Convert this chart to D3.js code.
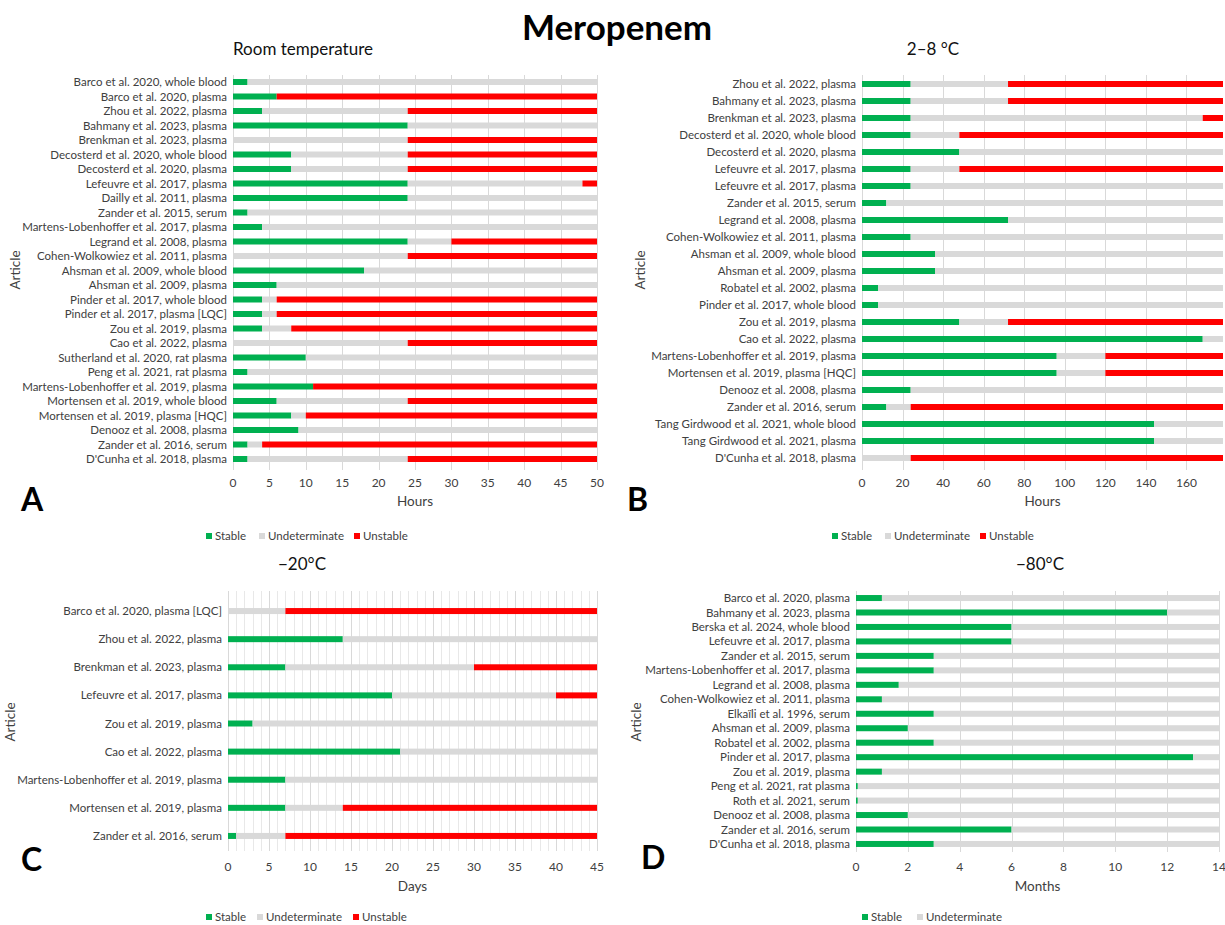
<!DOCTYPE html>
<html>
<head>
<meta charset="utf-8">
<script src="https://cdn.jsdelivr.net/npm/d3@7"></script>
<style>
  body { margin: 0; background: #fff; }
  svg text { font-family: Lato, "Open Sans", sans-serif; }
</style>
</head>
<body>
<div id="chart"></div>
<script>
const width = 1225;
const height = 925;

// Panel A: room temperature (hours)
const articlesA = [
  "Barco et al. 2020, whole blood", "Barco et al. 2020, plasma", "Zhou et al. 2022, plasma",
  "Bahmany et al. 2023, plasma", "Brenkman et al. 2023, plasma", "Decosterd et al. 2020, whole blood",
  "Decosterd et al. 2020, plasma", "Lefeuvre et al. 2017, plasma", "Dailly et al. 2011, plasma",
  "Zander et al. 2015, serum", "Martens-Lobenhoffer et al. 2017, plasma", "Legrand et al. 2008, plasma",
  "Cohen-Wolkowiez et al. 2011, plasma", "Ahsman et al. 2009, whole blood", "Ahsman et al. 2009, plasma",
  "Pinder et al. 2017, whole blood", "Pinder et al. 2017, plasma [LQC]", "Zou et al. 2019, plasma",
  "Cao et al. 2022, plasma", "Sutherland et al. 2020, rat plasma", "Peng et al. 2021, rat plasma",
  "Martens-Lobenhoffer et al. 2019, plasma", "Mortensen et al. 2019, whole blood",
  "Mortensen et al. 2019, plasma [HQC]", "Denooz et al. 2008, plasma", "Zander et al. 2016, serum",
  "D'Cunha et al. 2018, plasma"
];
const stableA =        [2, 6, 4, 24, 0, 8, 8, 24, 24, 2, 4, 24, 0, 18, 6, 4, 4, 4, 0, 10, 2, 11, 6, 8, 9, 2, 2];
const undeterminateA = [48, 0, 20, 26, 24, 16, 16, 24, 26, 48, 46, 6, 24, 32, 44, 2, 2, 4, 24, 40, 48, 0, 18, 2, 41, 2, 22];
const unstableA =      [0, 44, 26, 0, 26, 26, 26, 2, 0, 0, 0, 20, 26, 0, 0, 44, 44, 42, 26, 0, 0, 39, 26, 40, 0, 46, 26];
const ticksA = [0, 5, 10, 15, 20, 25, 30, 35, 40, 45, 50];

// Panel B: 2-8 °C (hours)
const articlesB = [
  "Zhou et al. 2022, plasma", "Bahmany et al. 2023, plasma", "Brenkman et al. 2023, plasma",
  "Decosterd et al. 2020, whole blood", "Decosterd et al. 2020, plasma", "Lefeuvre et al. 2017, plasma",
  "Lefeuvre et al. 2017, plasma ", "Zander et al. 2015, serum", "Legrand et al. 2008, plasma",
  "Cohen-Wolkowiez et al. 2011, plasma", "Ahsman et al. 2009, whole blood", "Ahsman et al. 2009, plasma",
  "Robatel et al. 2002, plasma", "Pinder et al. 2017, whole blood", "Zou et al. 2019, plasma",
  "Cao et al. 2022, plasma", "Martens-Lobenhoffer et al. 2019, plasma", "Mortensen et al. 2019, plasma [HQC]",
  "Denooz et al. 2008, plasma", "Zander et al. 2016, serum", "Tang Girdwood et al. 2021, whole blood",
  "Tang Girdwood et al. 2021, plasma", "D'Cunha et al. 2018, plasma"
];
const stableB =        [24, 24, 24, 24, 48, 24, 24, 12, 72, 24, 36, 36, 8, 8, 48, 168, 96, 96, 24, 12, 144, 144, 0];
const undeterminateB = [48, 48, 144, 24, 130, 24, 154, 166, 106, 154, 142, 142, 170, 170, 24, 10, 24, 24, 154, 12, 34, 34, 24];
const unstableB =      [106, 106, 10, 130, 0, 130, 0, 0, 0, 0, 0, 0, 0, 0, 106, 0, 58, 58, 0, 154, 0, 0, 154];
const ticksB = [0, 20, 40, 60, 80, 100, 120, 140, 160];

// Panel C: -20 °C (days)
const articlesC = [
  "Barco et al. 2020, plasma [LQC]", "Zhou et al. 2022, plasma", "Brenkman et al. 2023, plasma",
  "Lefeuvre et al. 2017, plasma", "Zou et al. 2019, plasma", "Cao et al. 2022, plasma",
  "Martens-Lobenhoffer et al. 2019, plasma", "Mortensen et al. 2019, plasma", "Zander et al. 2016, serum"
];
const stableC =        [0, 14, 7, 20, 3, 21, 7, 7, 1];
const undeterminateC = [7, 31, 23, 20, 42, 24, 38, 7, 6];
const unstableC =      [38, 0, 15, 5, 0, 0, 0, 31, 38];
const ticksC = [0, 5, 10, 15, 20, 25, 30, 35, 40, 45];

// Panel D: -80 °C (months)
const articlesD = [
  "Barco et al. 2020, plasma", "Bahmany et al. 2023, plasma", "Berska et al. 2024, whole blood",
  "Lefeuvre et al. 2017, plasma", "Zander et al. 2015, serum", "Martens-Lobenhoffer et al. 2017, plasma",
  "Legrand et al. 2008, plasma", "Cohen-Wolkowiez et al. 2011, plasma", "Elkaïli et al. 1996, serum",
  "Ahsman et al. 2009, plasma", "Robatel et al. 2002, plasma", "Pinder et al. 2017, plasma",
  "Zou et al. 2019, plasma", "Peng et al. 2021, rat plasma", "Roth et al. 2021, serum",
  "Denooz et al. 2008, plasma", "Zander et al. 2016, serum", "D'Cunha et al. 2018, plasma"
];
const stableD =        [1, 12, 6, 6, 3, 3, 1.65, 1, 3, 2, 3, 13, 1, 0.07, 0.07, 2, 6, 3];
const undeterminateD = [13, 2, 8, 8, 11, 11, 12.35, 13, 11, 12, 11, 1, 13, 13.93, 13.93, 12, 8, 11];
const unstableD =      [0, 0, 0, 0, 0, 0, 0, 0, 0, 0, 0, 0, 0, 0, 0, 0, 0, 0];
const ticksD = [0, 2, 4, 6, 8, 10, 12, 14];

const keys = ["Stable", "Undeterminate", "Unstable"];
const colors = { "Stable": "#00b050", "Undeterminate": "#d9d9d9", "Unstable": "#ff0000" };

const svg = d3.select('#chart')
  .append('svg')
  .attr('width', width)
  .attr('height', height);

// Main title
svg.append('text')
  .attr('x', 617).attr('y', 40)
  .attr('text-anchor', 'middle')
  .style('font-size', '35px')
  .style('font-weight', 'bold')
  .attr('fill', '#000')
  .text('Meropenem');

function drawPanel(p) {
  const rows = p.articles.map(function (a, i) {
    return { article: a, Stable: p.stable[i], Undeterminate: p.undeterminate[i], Unstable: p.unstable[i] };
  });

  const x = d3.scaleLinear().domain([0, p.max]).range(p.xRange);
  const y = d3.scalePoint().domain(p.articles).range(p.yRange).padding(0.5);
  const g = svg.append('g');

  // minor gridlines (panel C only)
  if (p.minor) {
    g.selectAll('.minor')
      .data(d3.range(0, p.max + 1, 1).filter(function (v) { return v % 5 !== 0; }))
      .enter().append('line')
      .attr('x1', function (d) { return Math.round(x(d)) + 0.5; })
      .attr('x2', function (d) { return Math.round(x(d)) + 0.5; })
      .attr('y1', p.gridTop).attr('y2', p.gridBottom)
      .attr('stroke', '#e8e8e8');
  }

  // major gridlines
  g.selectAll('.grid')
    .data(p.ticks)
    .enter().append('line')
    .attr('x1', function (d) { return Math.round(x(d)) + 0.5; })
    .attr('x2', function (d) { return Math.round(x(d)) + 0.5; })
    .attr('y1', p.gridTop).attr('y2', p.gridBottom)
    .attr('stroke', '#d9d9d9');

  // stacked bars
  const series = d3.stack().keys(keys)(rows);
  const barH = 6;
  g.selectAll('.series')
    .data(series)
    .enter().append('g')
    .attr('fill', function (s) { return colors[s.key]; })
    .selectAll('rect')
    .data(function (s) { return s; })
    .enter().append('rect')
    .attr('x', function (d) { return x(d[0]); })
    .attr('width', function (d) { return Math.max(0, x(d[1]) - x(d[0])); })
    .attr('y', function (d) { return y(d.data.article) - barH / 2; })
    .attr('height', barH);

  // x axis tick labels
  g.selectAll('.tick-label')
    .data(p.ticks)
    .enter().append('text')
    .attr('x', function (d) { return x(d); })
    .attr('y', p.tickY)
    .attr('dy', '0.35em')
    .attr('text-anchor', 'middle')
    .style('font-size', '12px')
    .attr('fill', '#404040')
    .text(function (d) { return d; });

  // category labels
  g.selectAll('.cat-label')
    .data(p.articles)
    .enter().append('text')
    .attr('x', p.xRange[0] - 6)
    .attr('y', function (d) { return y(d); })
    .attr('dy', '0.35em')
    .attr('text-anchor', 'end')
    .style('font-size', '11.5px')
    .attr('fill', '#404040')
    .text(function (d) { return d.trim(); });

  // axis titles
  g.append('text')
    .attr('x', (p.xRange[0] + p.xRange[1]) / 2)
    .attr('y', p.unitY)
    .attr('dy', '0.35em')
    .attr('text-anchor', 'middle')
    .style('font-size', '13.5px')
    .attr('fill', '#404040')
    .text(p.unit);

  g.append('text')
    .attr('transform', 'translate(' + p.articleX + ',' + p.articleY + ') rotate(-90)')
    .attr('dy', '0.35em')
    .attr('text-anchor', 'middle')
    .style('font-size', '13.5px')
    .attr('fill', '#404040')
    .text('Article');

  // panel title
  g.append('text')
    .attr('x', p.titleX).attr('y', p.titleY)
    .attr('dy', '0.35em')
    .attr('text-anchor', p.titleAnchor)
    .style('font-size', '17px')
    .attr('fill', '#111')
    .text(p.title);

  // panel letter
  g.append('text')
    .attr('x', p.letterX).attr('y', p.letterY)
    .attr('dy', '0.35em')
    .style('font-size', '32px')
    .style('font-weight', 'bold')
    .attr('fill', '#000')
    .text(p.letter);

  // legend
  const legend = g.selectAll('.legend')
    .data(p.legendKeys)
    .enter().append('g')
    .attr('transform', function (d, i) { return 'translate(' + p.legendX[i] + ',' + p.legendY + ')'; });
  legend.append('rect')
    .attr('x', 0).attr('y', -3)
    .attr('width', 6).attr('height', 6)
    .attr('fill', function (d) { return colors[d]; });
  legend.append('text')
    .attr('x', 9).attr('y', 0)
    .attr('dy', '0.35em')
    .style('font-size', '11.5px')
    .attr('fill', '#404040')
    .text(function (d) { return d; });
}

drawPanel({
  articles: articlesA, stable: stableA, undeterminate: undeterminateA, unstable: unstableA,
  ticks: ticksA, max: 50, xRange: [233, 597], yRange: [74.75, 466.25],
  gridTop: 75, gridBottom: 470, tickY: 483, unit: 'Hours', unitY: 501,
  articleX: 15, articleY: 270, title: 'Room temperature', titleX: 233, titleY: 49, titleAnchor: 'start',
  letter: 'A', letterX: 21, letterY: 500,
  legendKeys: keys, legendX: [206, 259, 354], legendY: 536
});

drawPanel({
  articles: articlesB, stable: stableB, undeterminate: undeterminateB, unstable: unstableB,
  ticks: ticksB, max: 178, xRange: [862, 1223], yRange: [75.5, 466.5],
  gridTop: 75, gridBottom: 470, tickY: 483, unit: 'Hours', unitY: 501,
  articleX: 640, articleY: 270, title: '2–8 °C', titleX: 933, titleY: 49, titleAnchor: 'middle',
  letter: 'B', letterX: 627, letterY: 500,
  legendKeys: keys, legendX: [832, 885, 980], legendY: 536
});

drawPanel({
  articles: articlesC, stable: stableC, undeterminate: undeterminateC, unstable: unstableC,
  ticks: ticksC, max: 45, xRange: [228, 597], yRange: [597, 850], minor: true,
  gridTop: 591, gridBottom: 851, tickY: 867, unit: 'Days', unitY: 886,
  articleX: 10, articleY: 722, title: '−20°C', titleX: 302, titleY: 564, titleAnchor: 'middle',
  letter: 'C', letterX: 21, letterY: 860,
  legendKeys: keys, legendX: [206, 257, 353], legendY: 917
});

drawPanel({
  articles: articlesD, stable: stableD, undeterminate: undeterminateD, unstable: unstableD,
  ticks: ticksD, max: 14, xRange: [856, 1219], yRange: [590.8, 851.2],
  gridTop: 591, gridBottom: 852, tickY: 867, unit: 'Months', unitY: 886,
  articleX: 636, articleY: 722, title: '−80°C', titleX: 1040, titleY: 564, titleAnchor: 'middle',
  letter: 'D', letterX: 641, letterY: 858,
  legendKeys: ["Stable", "Undeterminate"], legendX: [862, 917], legendY: 917
});
</script>
</body>
</html>
